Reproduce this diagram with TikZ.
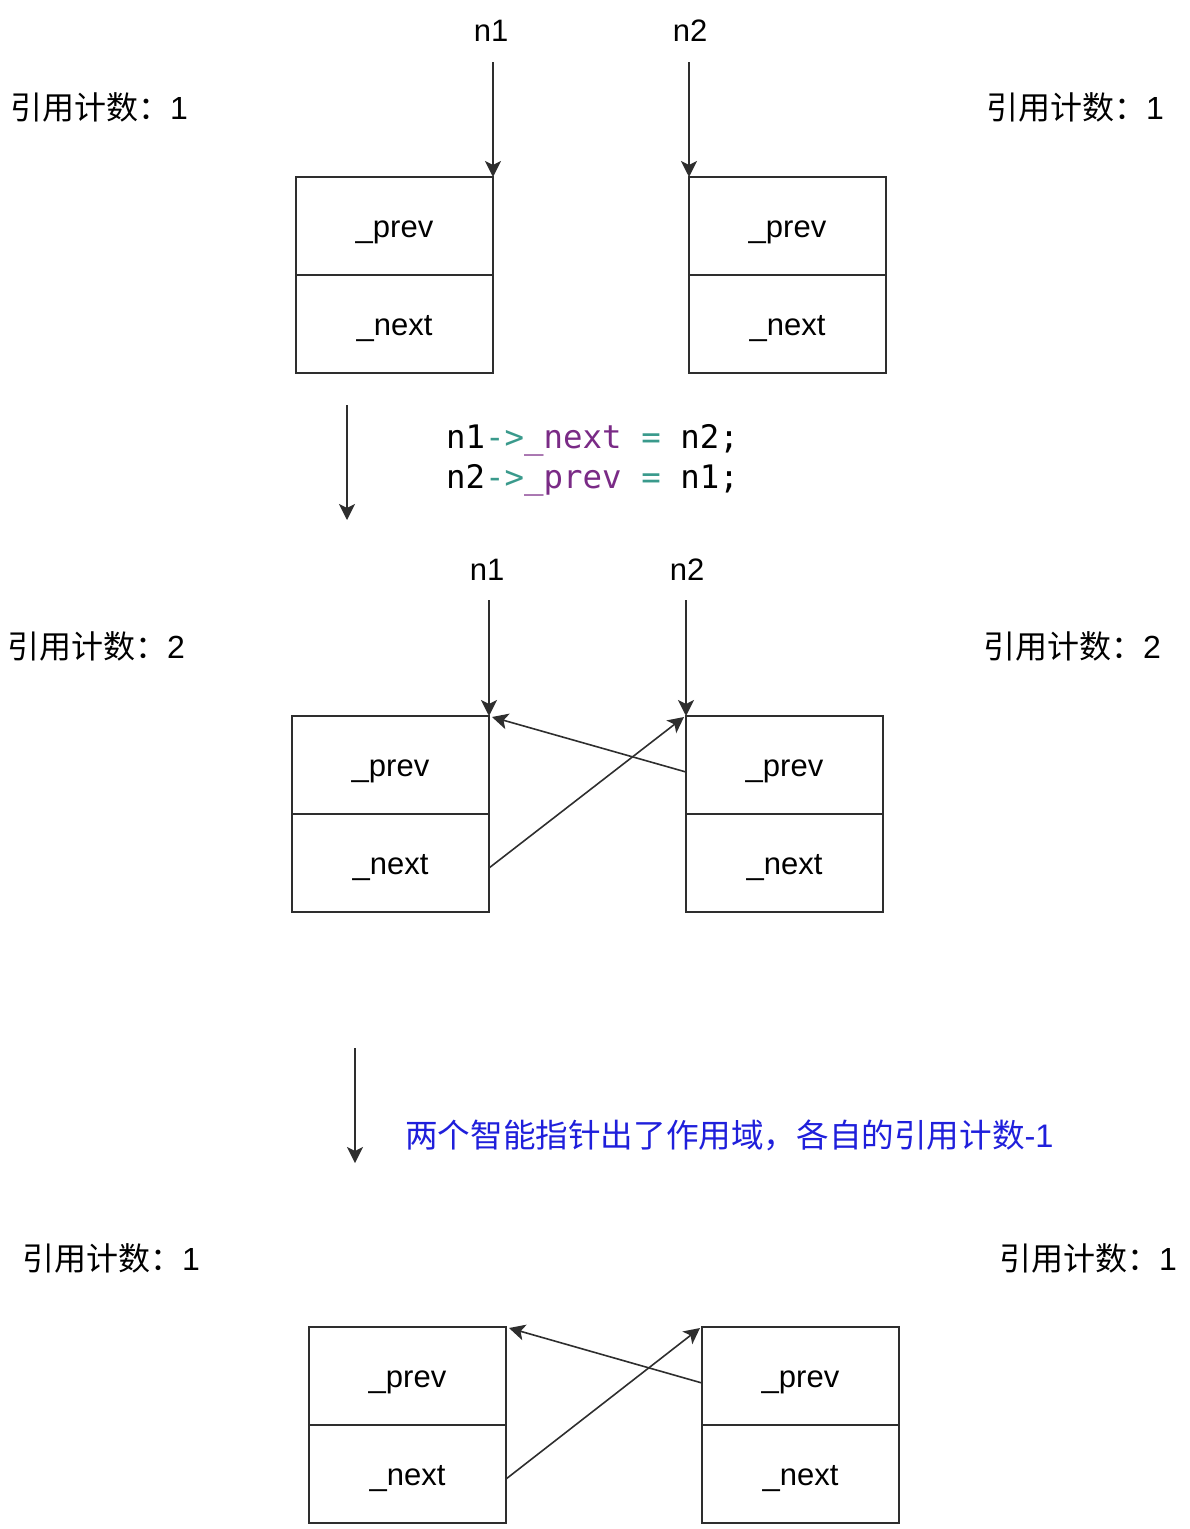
\documentclass[tikz,border=0pt]{standalone}
\usepackage{fontspec}
\setmainfont{Liberation Sans}
\newfontfamily\cjk{Noto Sans CJK SC}
\newfontfamily\code{DejaVu Sans Mono}
\usetikzlibrary{arrows.meta}
\definecolor{lc}{HTML}{2E2E2E}
\definecolor{codeteal}{HTML}{3A9A8C}
\definecolor{codepurple}{HTML}{7A2B86}
\definecolor{noteblue}{HTML}{1F1FDB}
\tikzset{
  cell/.style={draw=lc, line width=1.7pt, minimum width=197pt, minimum height=98pt,
    inner sep=0pt, outer sep=0pt, text height=28pt, text depth=6pt, font=\fontsize{31}{37}\selectfont},
  lbl/.style={font=\fontsize{31}{37}\selectfont, inner sep=0pt},
  cnt/.style={font=\cjk\fontsize{32}{38}\selectfont, inner sep=0pt, anchor=base west},
  codeln/.style={font=\code\fontsize{32.4}{40}\selectfont, inner sep=0pt, anchor=base west},
  arr/.style={draw=lc, line width=1.6pt, -{Stealth[length=16pt,width=16pt,inset=4pt]}},
}
\begin{document}
\begin{tikzpicture}[x=1pt,y=-1pt]
\useasboundingbox (0,0) rectangle (1190,1529);
% ---------- block 1 ----------
\node[cell] (a1p) at (394.5,226) {\_prev};
\node[cell] (a1n) at (394.5,324) {\_next};
\node[cell] (b1p) at (787.5,226) {\_prev};
\node[cell] (b1n) at (787.5,324) {\_next};
\node[lbl, anchor=base] (n1a) at (491,41) {n1};
\node[lbl, anchor=base] (n2a) at (690,41) {n2};
\coordinate (n1as) at (a1p.north east |- {(0,62)});
\coordinate (n2as) at (b1p.north west |- {(0,62)});
\draw[arr] (n1as) -- (a1p.north east);
\draw[arr] (n2as) -- (b1p.north west);
\node[cnt] (c1l) at (10,119) {引用计数：\fontspec{Liberation Sans}1};
\node[cnt] (c1r) at (986,119) {引用计数：\fontspec{Liberation Sans}1};
% ---------- transition 1 ----------
\coordinate (d1s) at (347,405);
\coordinate (d1e) at (347,520);
\draw[arr] (d1s) -- (d1e);
\node[codeln] (code1) at (446,448) {n1\textcolor{codeteal}{->}\textcolor{codepurple}{\_next} \textcolor{codeteal}{=} n2;};
\node[codeln] (code2) at (446,488) {n2\textcolor{codeteal}{->}\textcolor{codepurple}{\_prev} \textcolor{codeteal}{=} n1;};
% ---------- block 2 ----------
\node[cell] (a2p) at (390.5,765) {\_prev};
\node[cell] (a2n) at (390.5,863) {\_next};
\node[cell] (b2p) at (784.5,765) {\_prev};
\node[cell] (b2n) at (784.5,863) {\_next};
\node[lbl, anchor=base] (n1b) at (487,580) {n1};
\node[lbl, anchor=base] (n2b) at (687,580) {n2};
\coordinate (n1bs) at (a2p.north east |- {(0,600)});
\coordinate (n2bs) at (b2p.north west |- {(0,600)});
\draw[arr] (n1bs) -- (a2p.north east);
\draw[arr] (n2bs) -- (b2p.north west);
\draw[arr] ([yshift=-7pt]b2p.west) -- ([xshift=3pt,yshift=-1pt]a2p.north east);
\draw[arr] ([yshift=-5pt]a2n.east) -- ([xshift=-2pt,yshift=-1pt]b2p.north west);
\node[cnt] (c2l) at (7,658) {引用计数：\fontspec{Liberation Sans}2};
\node[cnt] (c2r) at (983,658) {引用计数：\fontspec{Liberation Sans}2};
% ---------- transition 2 ----------
\coordinate (d2s) at (355,1048);
\coordinate (d2e) at (355,1163);
\draw[arr] (d2s) -- (d2e);
\node[cnt, text=noteblue, font=\cjk\fontsize{32.6}{38}\selectfont] (note) at (405,1147) {两个智能指针出了作用域，各自的引用计数\fontspec{Liberation Sans}-1};
% ---------- block 3 ----------
\node[cell] (a3p) at (407.5,1376) {\_prev};
\node[cell] (a3n) at (407.5,1474) {\_next};
\node[cell] (b3p) at (800.5,1376) {\_prev};
\node[cell] (b3n) at (800.5,1474) {\_next};
\draw[arr] ([yshift=-7pt]b3p.west) -- ([xshift=3pt,yshift=-1pt]a3p.north east);
\draw[arr] ([yshift=-5pt]a3n.east) -- ([xshift=-2pt,yshift=-1pt]b3p.north west);
\node[cnt] (c3l) at (22,1270) {引用计数：\fontspec{Liberation Sans}1};
\node[cnt] (c3r) at (999,1270) {引用计数：\fontspec{Liberation Sans}1};
\end{tikzpicture}
\end{document}
